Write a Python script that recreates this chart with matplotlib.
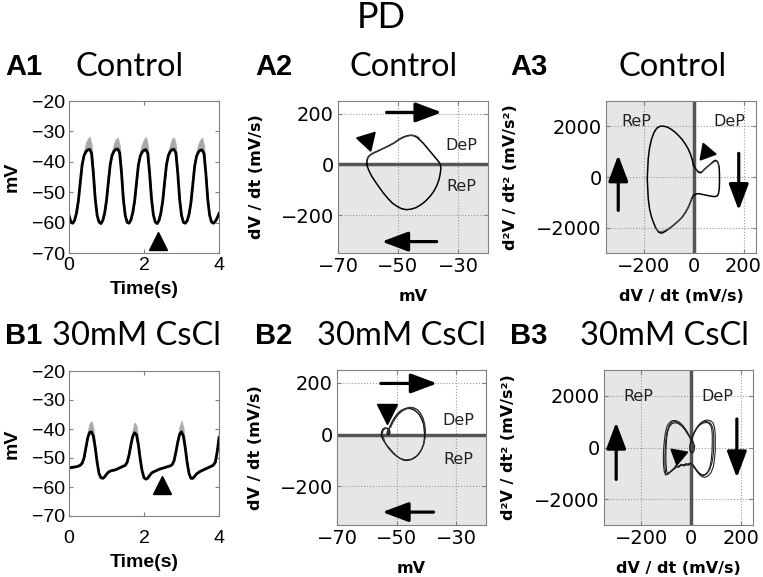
import numpy as np
import matplotlib.pyplot as plt

plt.rcParams['font.family'] = ['Liberation Sans', 'DejaVu Sans']

# ---------------- data ----------------
# A1 / B1: membrane potential sampled every 0.05 s
trace_t = np.linspace(0, 4, 81)

a1_v = [-57.6, -59.8,
        -60.2, -59.2, -56.8, -52.8, -46.8, -41.0, -38.0, -36.7, -36.1, -35.9, -37.1, -43.8, -52.3, -57.6, -59.8,
        -60.3, -59.3, -56.9, -52.7, -46.6, -40.8, -37.8, -36.5, -35.9, -35.8, -37.0, -43.6, -52.4, -57.7, -59.9,
        -60.2, -59.1, -56.7, -52.9, -46.9, -41.1, -38.1, -36.8, -36.2, -36.0, -37.2, -43.9, -52.2, -57.5, -59.8,
        -60.3, -59.3, -56.8, -52.8, -46.7, -40.9, -37.9, -36.6, -36.0, -35.9, -37.1, -43.7, -52.3, -57.6, -59.9,
        -60.2, -59.4, -57.3, -53.6, -47.6, -41.5, -38.2, -36.8, -36.2, -36.1, -37.3, -43.9, -52.4, -57.6, -59.8,
        -60.2, -59.6, -58.5, -57.0]
# spread of the grey (all sweeps) above the mean trace
a1_spread = [0, 0,
             0, 0, 0, 0, 0, 0.5, 1.5, 2.8, 3.6, 4.1, 2.8, 0.9, 0, 0, 0,
             0, 0, 0, 0, 0, 0.4, 1.3, 2.5, 3.3, 3.7, 2.5, 0.7, 0, 0, 0,
             0, 0, 0, 0, 0, 0.5, 1.6, 2.7, 3.5, 4.2, 2.7, 0.8, 0, 0, 0,
             0, 0, 0, 0, 0, 0.3, 1.2, 2.4, 3.6, 3.8, 2.6, 0.9, 0, 0, 0,
             0, 0, 0, 0, 0, 0.5, 1.5, 2.6, 3.4, 4.0, 2.5, 0.7, 0, 0, 0,
             0, 0, 0, 0]

b1_v = [-53.4, -53.3, -53.2, -53.1, -53.0, -52.8, -52.5, -51.8, -50.0, -46.5,
        -43.0, -41.2, -41.0, -42.5, -46.5, -51.5, -55.3, -56.8, -57.0, -56.5,
        -55.6, -54.9, -54.5, -54.3, -54.2, -54.0, -53.7, -53.4, -53.1, -52.8,
        -52.5, -51.5, -49.0, -45.5, -42.5, -41.3, -42.0, -45.5, -50.5, -54.5,
        -56.8, -57.3, -56.9, -56.0, -55.2, -54.8, -54.5, -54.2, -53.9, -53.7,
        -53.5, -53.3, -53.1, -52.9, -52.7, -52.3, -51.0, -48.0, -44.5, -41.8,
        -41.0, -42.5, -46.5, -51.5, -55.3, -57.0, -57.0, -56.3, -55.5, -55.0,
        -54.6, -54.3, -54.0, -53.7, -53.4, -53.1, -52.8, -52.4, -51.5, -48.0,
        -43.0]
b1_spread = [0, 0, 0, 0, 0, 0, 0, 0, 0, 0.8,
             2.0, 3.2, 3.6, 2.6, 1.0, 0, 0, 0, 0, 0,
             0, 0, 0, 0, 0, 0, 0, 0, 0, 0,
             0, 0, 0, 0.8, 2.2, 3.5, 3.0, 1.5, 0.5, 0,
             0, 0, 0, 0, 0, 0, 0, 0, 0, 0,
             0, 0, 0, 0, 0, 0, 0, 0, 1.0, 2.6,
             3.8, 2.8, 1.2, 0.3, 0, 0, 0, 0, 0, 0,
             0, 0, 0, 0, 0, 0, 0, 0, 0, 1.0,
             2.5]

# A2: dV/dt vs V, control
a2_v = [-60.4, -60.3, -59.9, -59.0, -57.9, -56.6, -55.2, -53.8, -52.3, -51.0,
        -49.7, -48.3, -47.1, -45.9, -44.8, -43.7, -42.6, -41.4, -40.3, -39.2,
        -38.1, -37.1, -36.3, -35.9, -35.7, -35.9, -36.3, -37.1, -38.1, -39.3,
        -40.8, -42.3, -44.0, -45.7, -47.2, -48.8, -50.3, -51.9, -53.4, -54.9,
        -56.3, -57.7, -58.8, -59.7, -60.2, -60.4]
a2_dv = [0, 17, 30, 39, 46, 53, 61, 69, 78, 87,
         98, 107, 112, 115, 113, 107, 95, 81, 65, 50,
         34, 20, 8, 0, -16, -35, -59, -85, -107, -126,
         -145, -159, -171, -177, -179, -175, -166, -153, -134, -113,
         -90, -66, -46, -25, -9, 0]
a2_v2 = [-60.1, -59.6, -58.6, -57.4, -56.0, -54.6, -53.2, -51.8, -50.4, -49.0, -47.6, -46.3, -45.1, -44.0, -42.9]
a2_dv2 = [22, 34, 43, 50, 57, 64, 72, 81, 91, 101, 109, 113, 115, 112, 104]

# A3: d2V/dt2 vs dV/dt, control
a3_dv = [0, 5, 12, 18, 25, 32, 38, 46, 55, 65,
         74, 82, 88, 95, 100, 103, 104, 104, 103, 100,
         95, 86, 73, 59, 46, 33, 21, 11, 0, -7,
         -13, -21, -32, -45, -61, -78, -95, -112, -127, -139,
         -149, -158, -168, -176, -181, -183, -185, -183, -181, -176,
         -168, -158, -147, -133, -119, -104, -90, -75, -61, -46,
         -33, -21, -12, -5, 0]
a3_d2v = [470, 377, 285, 205, 166, 179, 245, 325, 404, 483,
          563, 629, 656, 616, 510, 338, 73, -192, -457, -656,
          -748, -775, -762, -735, -709, -682, -656, -669, -722, -854,
          -1013, -1199, -1397, -1583, -1742, -1887, -2020, -2139, -2219, -2179,
          -2046, -1848, -1583, -1252, -854, -457, -60, 338, 735, 1132,
          1490, 1755, 1927, 2007, 2007, 1967, 1887, 1781, 1649, 1490,
          1305, 1106, 894, 682, 470]
a3_dv2 = [-8, -15, -24, -36, -50, -67, -85, -103, -120, -133, -145, -155]
a3_d2v2 = [-880, -1050, -1240, -1440, -1630, -1800, -1950, -2060, -2130, -2160, -2110, -1980]
a3_dv3 = [12, 20, 27, 34, 42, 52, 63, 74, 83, 90, 97, 101]
a3_d2v3 = [300, 230, 200, 215, 280, 370, 460, 540, 600, 620, 570, 460]

# B2: dV/dt vs V, 30 mM CsCl (three sweeps)
b2_v = [-55.1, -55.0, -54.6, -53.9, -53.1, -52.4, -52.2, -52.6, -53.1, -53.2,
        -52.8, -52.2, -51.6, -50.8, -49.9, -48.9, -47.8, -46.7, -45.6, -44.4,
        -43.3, -42.3, -41.6, -41.0, -40.7, -40.6, -40.7, -41.0, -41.7, -42.6,
        -43.7, -44.9, -46.2, -47.6, -48.9, -50.2, -51.4, -52.6, -53.6, -54.3,
        -54.9, -55.1]
b2_dv = [0, 12, 21, 26, 24, 17, 8, 1, 1, 9,
         18, 31, 47, 64, 78, 90, 97, 101, 101, 97,
         88, 76, 60, 42, 22, 0, -19, -40, -59, -76,
         -88, -96, -100, -99, -92, -81, -67, -51, -37, -24,
         -12, 0]
b2_v2 = [-54.8, -54.4, -53.6, -52.8, -52.5, -52.9, -53.0, -52.4, -51.6, -50.6,
         -49.5, -48.2, -46.9, -45.6, -44.3, -43.1, -42.1, -41.2, -40.6, -40.3,
         -40.4, -40.9, -41.8, -43.2, -45.0, -47.0, -49.0, -51.0, -52.8, -54.0,
         -54.8]
b2_dv2 = [5, 18, 25, 21, 10, 3, 12, 28, 47, 66,
          82, 94, 102, 106, 104, 97, 85, 66, 43, 18,
          -10, -38, -62, -82, -95, -98, -91, -75, -52, -28,
          5]
b2_v3 = [-52.0, -51.3, -50.4, -49.3, -48.1, -46.8, -45.5, -44.2, -43.0, -42.0, -41.2, -40.8, -40.7]
b2_dv3 = [28, 45, 63, 79, 91, 99, 104, 102, 95, 82, 63, 38, 10]

# B3: d2V/dt2 vs dV/dt, 30 mM CsCl (three sweeps)
b3_dv = [0, 8, 15, 13, 5, -4, -5, 0, 8, 17,
         28, 40, 54, 67, 81, 90, 95, 98, 98, 98,
         95, 90, 81, 67, 54, 40, 28, 17, 8, 0,
         -12, -26, -39, -52, -67, -81, -93, -102, -107, -110,
         -111, -110, -107, -103, -97, -87, -75, -60, -46, -32,
         -20, -11, 0]
b3_d2v = [364, 234, 65, -130, -234, -130, 65, 234, 455, 649,
          831, 961, 1039, 1065, 1026, 935, 779, 519, 195, -130,
          -455, -753, -974, -1117, -1156, -1104, -974, -805, -675, -610,
          -636, -662, -675, -727, -831, -935, -1039, -1065, -935, -714,
          -390, -65, 260, 558, 805, 961, 1039, 1039, 974, 844,
          688, 532, 364]
b3_dv2 = [0, 6, 10, 8, 2, -3, -3, 0, 7, 15,
          25, 37, 50, 62, 73, 80, 84, 86, 86, 85,
          82, 77, 69, 58, 46, 35, 24, 14, 6, 0,
          -10, -20, -30, -40, -50, -60, -70, -80, -88, -94,
          -98, -100, -101, -100, -98, -94, -87, -77, -64, -50,
          -36, -24, -13, -5, 0]
b3_d2v2 = [300, 200, 60, -120, -200, -100, 60, 200, 420, 600,
           760, 880, 950, 970, 930, 840, 700, 480, 180, -150,
           -470, -740, -930, -1040, -1060, -1000, -880, -740, -650, -600,
           -690, -620, -720, -650, -760, -690, -820, -900, -980, -1000,
           -900, -650, -350, 0, 330, 600, 800, 920, 960, 920,
           820, 680, 520, 400, 300]
b3_dv3 = [0, 10, 22, 35, 48, 61, 73, 83, 89, 92,
          92, 90, 85, 76, 64, 51, 38, 25, 13, 4,
          0, -12, -24, -36, -48, -60, -72, -84, -94, -100,
          -104, -105, -104, -101, -96, -88, -77, -63, -49, -35,
          -22, -11, 0]
b3_d2v3 = [330, 540, 740, 880, 980, 1010, 980, 880, 720, 450,
           100, -250, -580, -850, -1020, -1090, -1050, -930, -780, -660,
           -600, -660, -700, -660, -760, -720, -850, -960, -1030, -1040,
           -850, -500, -100, 300, 620, 850, 980, 1010, 960, 850,
           690, 520, 330]

# tick positions
a_tr_xt = [0, 2, 4]
a_tr_yt = [-70, -60, -50, -40, -30, -20]
ph_xt = [-70, -50, -30]
ph_yt = [-200, 0, 200]
acc_xt = [-200, 0, 200]
acc_yt = [-2000, 0, 2000]

# ---------------- figure ----------------
W, H = 763, 577
fig = plt.figure(figsize=(W / 100, H / 100), dpi=100)


def box(l, t, r, b):
    # axes from pixel box (left, top, right, bottom)
    return fig.add_axes([l / W, 1 - b / H, (r - l) / W, (b - t) / H])


def tick_text(vals):
    return [f'{v:g}'.replace('-', '\u2212') for v in vals]


def matlab_style(ax, xt, yt, grid=False, family='Liberation Sans', size=14):
    ax.set_xticks(xt, labels=tick_text(xt), fontfamily=family, fontsize=size)
    ax.set_yticks(yt, labels=tick_text(yt), fontfamily=family, fontsize=size)
    for s in ax.spines.values():
        s.set_color('#808080')
        s.set_linewidth(0.8)
    ax.tick_params(direction='in', length=3, width=0.8, color='#808080',
                   top=True, right=True, pad=3)
    if grid:
        ax.grid(True, linestyle=':', color='#999999', linewidth=0.8)


def arrow(ax, tail, tip):
    ax.annotate('', xy=tip, xytext=tail,
                arrowprops=dict(arrowstyle='-|>,head_length=0.8,head_width=0.3',
                                mutation_scale=20, lw=2.3, color='k',
                                shrinkA=0, shrinkB=0), zorder=5)


lab = dict(fontsize=14, fontweight='bold')
plab = dict(fontsize=11.5, fontweight='bold', family='DejaVu Sans')
pn = dict(fontsize=11.5, color='#222222', ha='center', va='center', family='DejaVu Sans')

# ---- A1 / B1 voltage traces ----
ax_a1 = box(69, 101, 219, 253)
ax_b1 = box(69, 371, 219, 516)
for ax, v, sp, tri in [(ax_a1, a1_v, a1_spread, (2.38, -65.9)),
                       (ax_b1, b1_v, b1_spread, (2.49, -59.3))]:
    v = np.array(v)
    ax.fill_between(trace_t, v, v + np.array(sp), color='#a8a8a8', lw=0.8, edgecolor='#b0b0b0')
    ax.plot(trace_t, v, color='k', lw=2)
    ax.plot(*tri, marker='^', ms=13, color='k')
    ax.set_xlim(0, 4)
    ax.set_ylim(-70, -20)
    ax.set_ylabel('mV', labelpad=8, **lab)
    ax.set_xlabel('Time(s)', labelpad=5, **lab)
    matlab_style(ax, a_tr_xt, a_tr_yt)
ax_b1.tick_params(axis='x', pad=10)

# ---- A2 / B2 phase plots ----
ax_a2 = box(338, 101, 488, 253)
ax_b2 = box(337, 370, 486, 525)
for ax in (ax_a2, ax_b2):
    ax.axhspan(-400, 0, color='#e6e6e6', zorder=0)
    ax.axhline(0, color='#555555', lw=2.5, zorder=2)
    ax.set_xlim(-70, -20)
    ax.set_ylim(-350, 250)
    ax.set_ylabel('dV / dt (mV/s)', labelpad=12, **plab)
    ax.set_xlabel('mV', labelpad=9, **plab)
    matlab_style(ax, ph_xt, ph_yt, grid=True, family='DejaVu Sans', size=14)

ax_a2.plot(a2_v, a2_dv, color='k', lw=1.1, zorder=3)
ax_a2.plot(a2_v2, a2_dv2, color='#444444', lw=0.8, zorder=3)
ax_a2.plot(-60.4, 95, marker=(3, 0, 77), ms=16, color='k')
arrow(ax_a2, (-53.8, 205), (-35.4, 205))
arrow(ax_a2, (-37.1, -305), (-55.4, -305))
ax_a2.text(-28.8, 76, 'DeP', **pn)
ax_a2.text(-28.8, -87, 'ReP', **pn)

ax_b2.plot(b2_v, b2_dv, color='k', lw=0.9, zorder=3)
ax_b2.plot(b2_v2, b2_dv2, color='#333333', lw=0.8, zorder=3)
ax_b2.plot(b2_v3, b2_dv3, color='#333333', lw=0.8, zorder=3)
ax_b2.plot(-53.1, 79, marker='v', ms=14, color='k')
arrow(ax_b2, (-55.3, 198), (-36.4, 198))
arrow(ax_b2, (-37.6, -300), (-54.8, -300))
ax_b2.text(-29.2, 53, 'DeP', **pn)
ax_b2.text(-29.2, -98, 'ReP', **pn)

# ---- A3 / B3 second-derivative phase plots ----
ax_a3 = box(606, 101, 756, 253)
ax_b3 = box(604, 370, 753, 525)
for ax in (ax_a3, ax_b3):
    ax.axvspan(-400, 0, color='#e6e6e6', zorder=0)
    ax.axvline(0, color='#555555', lw=2.5, zorder=2)
    ax.set_xlim(-350, 250)
    ax.set_ylim(-3000, 3000)
    ax.set_ylabel('d²V / dt² (mV/s²)', labelpad=13, **plab)
    ax.set_xlabel('dV / dt (mV/s)', labelpad=9, **plab)
    matlab_style(ax, acc_xt, acc_yt, grid=True, family='DejaVu Sans', size=14)

ax_a3.plot(a3_dv, a3_d2v, color='k', lw=1.1, zorder=3)
ax_a3.plot(a3_dv2, a3_d2v2, color='#555555', lw=0.7, zorder=3)
ax_a3.plot(a3_dv3, a3_d2v3, color='#555555', lw=0.7, zorder=3)
ax_a3.plot(49, 1000, marker=(3, 0, -100), ms=14, color='k')
arrow(ax_a3, (-301, -1318), (-301, 868))
arrow(ax_a3, (181, 934), (181, -1318))
ax_a3.text(-228, 2190, 'ReP', **pn)
ax_a3.text(144, 2190, 'DeP', **pn)

ax_b3.plot(b3_dv, b3_d2v, color='#222222', lw=0.8, zorder=3)
ax_b3.plot(b3_dv2, b3_d2v2, color='#222222', lw=0.8, zorder=3)
ax_b3.plot(b3_dv3, b3_d2v3, color='#222222', lw=0.8, zorder=3)
ax_b3.plot(-54, -286, marker=(3, 0, 170), ms=14, color='k')
arrow(ax_b3, (-301, -1234), (-301, 974))
arrow(ax_b3, (185, 1104), (185, -1169))
ax_b3.text(-211, 1974, 'ReP', **pn)
ax_b3.text(107, 1974, 'DeP', **pn)

# ---- titles and panel letters ----
ttl = dict(fontsize=23.5, family=['Lato', 'DejaVu Sans'], va='center')
let = dict(fontsize=21, fontweight='bold', va='center', ha='left')
fig.text(381 / W, 1 - 17 / H, 'PD', ha='center', fontsize=26, family=['Lato', 'DejaVu Sans'], va='center')
for x_let, x_ttl, y, letter, title in [(5, 129.5, 67, 'A1', 'Control'),
                                       (255, 403.5, 67, 'A2', 'Control'),
                                       (510, 672.5, 67, 'A3', 'Control'),
                                       (5, 136.5, 336, 'B1', '30mM CsCl'),
                                       (255, 401.5, 336, 'B2', '30mM CsCl'),
                                       (510, 664, 336, 'B3', '30mM CsCl')]:
    fig.text(x_let / W, 1 - y / H, letter, **let)
    fig.text(x_ttl / W, 1 - y / H, title, ha='center', **ttl)

fig.savefig('out.png', dpi=100)
